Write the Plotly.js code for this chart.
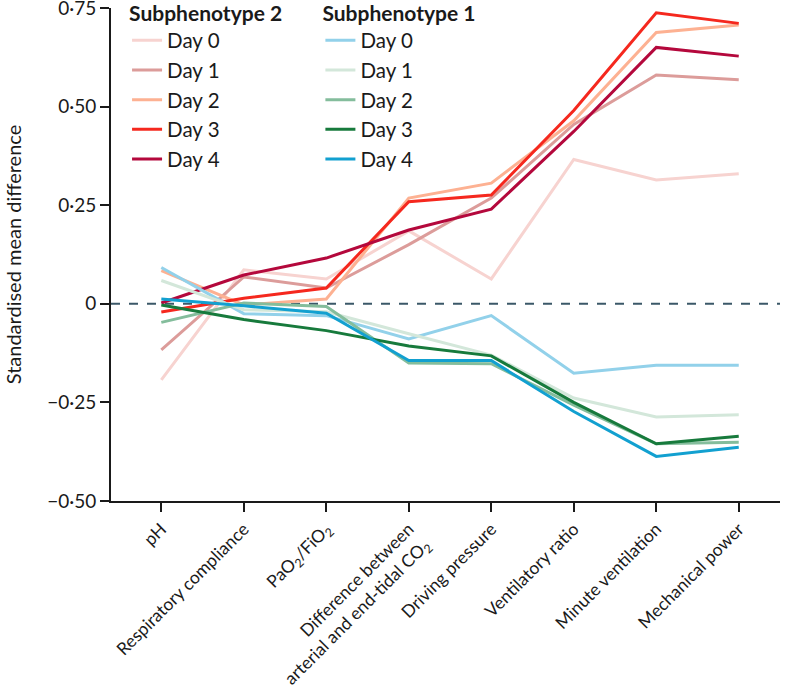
<!DOCTYPE html>
<html>
<head>
<meta charset="utf-8">
<script src="https://cdn.plot.ly/plotly-3.0.1.min.js"></script>
<style>
  body { margin: 0; background: #fff; }
  #plot { width: 789px; height: 692px; }
</style>
</head>
<body>
<div id="plot"></div>
<script>
// variables on the x axis
var categories = [
  'pH',
  'Respiratory compliance',
  'PaO<sub>2</sub>/FiO<sub>2</sub>',
  'Difference between<br>arterial and end-tidal CO<sub>2</sub>',
  'Driving pressure',
  'Ventilatory ratio',
  'Minute ventilation',
  'Mechanical power'
];

// subphenotype 2, day 0..4
var sub2Day0 = [-0.193, 0.086, 0.063, 0.185, 0.063, 0.366, 0.314, 0.330];
var sub2Day1 = [-0.117, 0.068, 0.040, 0.150, 0.268, 0.455, 0.580, 0.568];
var sub2Day2 = [0.084, -0.003, 0.012, 0.268, 0.306, 0.464, 0.688, 0.707];
var sub2Day3 = [-0.021, 0.014, 0.040, 0.259, 0.276, 0.490, 0.738, 0.711];
var sub2Day4 = [0.002, 0.073, 0.116, 0.187, 0.240, 0.437, 0.650, 0.628];

// subphenotype 1, day 0..4
var sub1Day0 = [0.092, -0.025, -0.030, -0.089, -0.030, -0.176, -0.156, -0.156];
var sub1Day1 = [0.059, -0.015, -0.020, -0.076, -0.130, -0.239, -0.287, -0.281];
var sub1Day2 = [-0.047, 0.002, -0.007, -0.150, -0.152, -0.257, -0.355, -0.351];
var sub1Day3 = [-0.003, -0.040, -0.068, -0.107, -0.132, -0.250, -0.355, -0.336];
var sub1Day4 = [0.012, -0.005, -0.024, -0.144, -0.144, -0.273, -0.387, -0.364];

var dayNames = ['Day 0', 'Day 1', 'Day 2', 'Day 3', 'Day 4'];
var sub2Colors = ['#f7d3d0', '#dc9c9a', '#fdb192', '#f5281e', '#b4083c'];
var sub1Colors = ['#92d1ea', '#d3e7da', '#84bd9c', '#177a3c', '#12a0d0'];

var yTicks = [-0.5, -0.25, 0, 0.25, 0.5, 0.75];
var yTickText = ['\u22120\u00b750', '\u22120\u00b725', '0', '0\u00b725', '0\u00b750', '0\u00b775'];

var sub2 = [sub2Day0, sub2Day1, sub2Day2, sub2Day3, sub2Day4];
var sub1 = [sub1Day0, sub1Day1, sub1Day2, sub1Day3, sub1Day4];

var data = [];
for (var i = 0; i < 5; i++) {
  data.push({
    x: categories, y: sub2[i], type: 'scatter', mode: 'lines',
    name: dayNames[i], legend: 'legend',
    line: { color: sub2Colors[i], width: 3 }
  });
}
for (var i = 0; i < 5; i++) {
  data.push({
    x: categories, y: sub1[i], type: 'scatter', mode: 'lines',
    name: dayNames[i], legend: 'legend2',
    line: { color: sub1Colors[i], width: 3 }
  });
}

var font = 'Lato, "Open Sans", sans-serif';

var layout = {
  width: 789,
  height: 692,
  margin: { l: 111, r: 9, t: 8, b: 191, autoexpand: false },
  paper_bgcolor: '#fff',
  plot_bgcolor: '#fff',
  font: { family: font, size: 19, color: '#1a1a1a' },
  showlegend: true,
  legend: {
    x: 0.024, y: 1.03, xanchor: 'left', yanchor: 'top',
    title: { text: '<b>Subphenotype 2</b>', font: { size: 21 } },
    font: { size: 20.5 }, bgcolor: 'rgba(0,0,0,0)', tracegroupgap: 0
  },
  legend2: {
    x: 0.313, y: 1.03, xanchor: 'left', yanchor: 'top',
    title: { text: '<b>Subphenotype 1</b>', font: { size: 21 } },
    font: { size: 20.5 }, bgcolor: 'rgba(0,0,0,0)', tracegroupgap: 0
  },
  xaxis: {
    type: 'category',
    range: [-0.61, 7.5],
    showgrid: false, zeroline: false,
    showline: true, linecolor: '#1a1a1a', linewidth: 2,
    ticks: 'outside', ticklen: 9, tickwidth: 2, tickcolor: '#1a1a1a',
    tickangle: -45,
    tickfont: { size: 17.5 },
    automargin: false
  },
  yaxis: {
    range: [-0.5, 0.75],
    tickvals: yTicks, ticktext: yTickText,
    showgrid: false, zeroline: false,
    showline: true, linecolor: '#1a1a1a', linewidth: 2,
    ticks: 'outside', ticklen: 9, tickwidth: 2, tickcolor: '#1a1a1a',
    tickfont: { size: 19 },
    ticklabeloverflow: 'allow',
    title: { text: 'Standardised mean difference', font: { size: 20 }, standoff: 20 },
    automargin: false
  },
  shapes: [{
    type: 'line', xref: 'paper', yref: 'y', x0: 0, x1: 1, y0: 0, y1: 0,
    layer: 'below',
    line: { color: '#3b5868', width: 2, dash: 'dash' }
  }]
};

Plotly.newPlot('plot', data, layout, { displayModeBar: false });
</script>
</body>
</html>
